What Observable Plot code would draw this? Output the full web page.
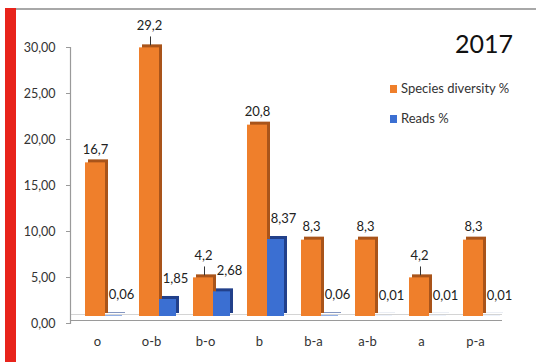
<!DOCTYPE html>
<html>
<head>
<meta charset="utf-8">
<script src="https://cdn.jsdelivr.net/npm/d3@7"></script>
<script src="https://cdn.jsdelivr.net/npm/@observablehq/plot@0.6"></script>
<style>
  html, body { margin: 0; padding: 0; background: #fff; }
  #wrap { position: relative; width: 536px; height: 362px; overflow: hidden; font-family: Lato, "Open Sans", sans-serif; color: #222; }
  #redbar { position: absolute; left: 5px; top: 8px; width: 11px; height: 354px; background: #e8231b; }
  #topline { position: absolute; left: 16px; top: 8px; width: 520px; height: 2px; background: #a8a8a8; }
  #title { position: absolute; right: 23px; top: 28px; font-size: 25px; line-height: 30px; color: #111; }
  .leg { position: absolute; left: 390px; font-size: 13px; line-height: 16px; color: #333; white-space: nowrap; }
  .sw { display: inline-block; width: 7px; height: 8px; margin-right: 4px; vertical-align: 0px; }
  #chart { position: absolute; left: 0; top: 0; }
</style>
</head>
<body>
<div id="wrap">
  <div id="chart"></div>
  <div id="redbar"></div>
  <div id="topline"></div>
  <div id="title">2017</div>
  <div class="leg" style="top:80px"><span class="sw" style="background:#ef7f2b"></span>Species diversity %</div>
  <div class="leg" style="top:110px"><span class="sw" style="background:#3b6fd2"></span>Reads %</div>
</div>
<script>
const categories = ["o", "o-b", "b-o", "b", "b-a", "a-b", "a", "p-a"];
const speciesDiversity = [16.7, 29.2, 4.2, 20.8, 8.3, 8.3, 4.2, 8.3];
const reads = [0.06, 1.85, 2.68, 8.37, 0.06, 0.01, 0.01, 0.01];
const speciesLabels = ["16,7", "29,2", "4,2", "20,8", "8,3", "8,3", "4,2", "8,3"];
const readsLabels = ["0,06", "1,85", "2,68", "8,37", "0,06", "0,01", "0,01", "0,01"];
const yTicks = [0, 5, 10, 15, 20, 25, 30];
const leaderCategories = ["o-b", "b-o", "a"];

const data = categories.map((c, i) => ({
  category: c,
  species: speciesDiversity[i],
  reads: reads[i],
  speciesLabel: speciesLabels[i],
  readsLabel: readsLabels[i]
}));
const plain = data.filter(d => !leaderCategories.includes(d.category));
const leadered = data.filter(d => leaderCategories.includes(d.category));

const leaderShape = {
  draw(context, l) { context.moveTo(0, 0); context.lineTo(0, -l); }
};

const chart = Plot.plot({
  width: 536,
  height: 362,
  marginLeft: 70,
  marginRight: 34,
  marginTop: 40,
  marginBottom: 46,
  style: { fontFamily: "Lato, 'Open Sans', sans-serif", fontSize: "12.5px", color: "#333", background: "transparent" },
  x: { domain: categories, padding: 0, label: null },
  y: { domain: [0, 30], label: null },
  marks: [
    Plot.ruleY([0], { dy: 4, stroke: "#9a9a9a", strokeWidth: 1.2 }),
    Plot.ruleY([0], { dy: -2, stroke: "#d4d4d4" }),
    Plot.frame({ anchor: "left", dy: 7, stroke: "#9a9a9a", strokeWidth: 1.2 }),
    Plot.axisY({ ticks: yTicks, tickFormat: d => d.toFixed(2).replace(".", ","), tickSize: 4, tickPadding: 11, dy: 7, stroke: "#9a9a9a", fill: "#333", fontSize: 12.5 }),
    Plot.axisX({ tickSize: 0, tickPadding: 20, fill: "#333", fontSize: 13 }),
    // orange 3D side
    Plot.barY(data, { x: "category", y: "species", fill: "#a9541a", insetLeft: 15, insetRight: 19, dx: 3, dy: -3 }),
    Plot.barY(data, { x: "category", y: "species", fill: "#ef7f2b", insetLeft: 15, insetRight: 19 }),
    // blue 3D side
    Plot.barY(data, { x: "category", y: "reads", fill: "#22408a", insetLeft: 35, insetRight: 2, dx: 3, dy: -3 }),
    Plot.barY(data, { x: "category", y: "reads", fill: "#3b6fd2", insetLeft: 35, insetRight: 2 }),
    // labels
    Plot.text(plain, { x: "category", y: "species", text: "speciesLabel", dx: -2, dy: -13, fill: "#222", fontSize: 13 }),
    Plot.text(leadered, { x: "category", y: "species", text: "speciesLabel", dx: -2, dy: -22, fill: "#222", fontSize: 13 }),
    Plot.vector(leadered, { x: "category", y: "species", length: 8, anchor: "start", shape: leaderShape, stroke: "#333", strokeWidth: 1, dx: -1, dy: -3 }),
    Plot.text(data, { x: "category", y: "reads", text: "readsLabel", dx: 24, dy: -21, fill: "#222", fontSize: 13 })
  ]
});
document.getElementById("chart").appendChild(chart);
</script>
</body>
</html>
